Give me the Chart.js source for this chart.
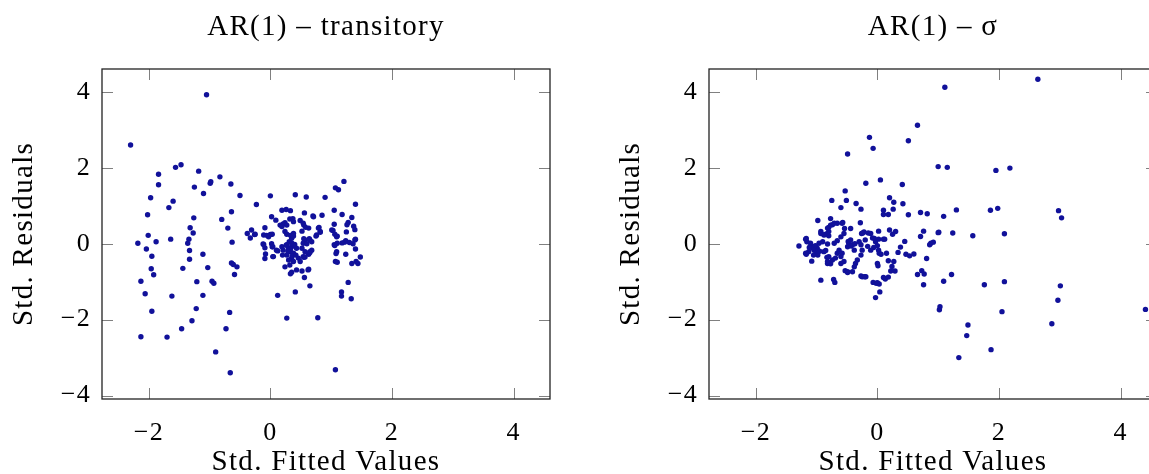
<!DOCTYPE html>
<html>
<head>
<meta charset="utf-8">
<script src="https://cdn.jsdelivr.net/npm/chart.js@4.4.1/dist/chart.umd.min.js"></script>
<style>
  html, body { margin: 0; padding: 0; background: #fff; }
  body { width: 1149px; height: 474px; overflow: hidden; position: relative; }
  .panel { position: absolute; top: 0; width: 600px; height: 474px; }
</style>
</head>
<body>
<div class="panel" style="left:0px"><canvas id="c1" width="600" height="474"></canvas></div>
<div class="panel" style="left:607px"><canvas id="c2" width="600" height="474"></canvas></div>
<script>
// ---- data ----
const panelTitles = ["AR(1) \u2013 transitory", "AR(1) \u2013 \u03c3"];
const xAxisTitle = "Std. Fitted Values";
const yAxisTitle = "Std. Residuals";
const xTickValues = [-2, 0, 2, 4];
const yTickValues = [-4, -2, 0, 2, 4];

// AR(1) – transitory : [std. fitted value, std. residual]
const transitoryPoints = [
[-2.30,2.60],[-1.05,3.92],[-1.56,2.01],[-1.47,2.08],[-1.84,1.83],[-1.84,1.55],[-1.18,1.91],[-1.25,1.49],[-0.99,1.59],[-0.98,1.63],
[-0.83,1.76],[-0.65,1.57],[-1.10,1.32],[-1.97,1.21],[-1.60,1.12],[-1.67,0.95],[-2.02,0.76],[-1.26,0.68],[-1.32,0.42],[-1.27,0.28],
[-2.01,0.22],[-1.88,0.05],[-1.64,0.12],[-1.34,0.12],[-0.80,0.64],[-0.70,0.41],[-0.64,0.84],[-0.50,1.27],[-0.23,1.03],[0.00,1.26],
[0.41,1.29],[0.59,1.23],[0.90,1.22],
[-2.18,0.01],[-2.04,-0.14],[-1.95,-0.33],[-1.96,-0.66],[-1.92,-0.82],[-2.13,-0.99],[-2.06,-1.32],[-1.62,-1.38],[-1.95,-1.78],
[-2.13,-2.45],[-1.70,-2.46],[-1.46,-2.24],[-1.29,-2.03],[-1.22,-1.71],[-1.11,-1.36],[-1.21,-1.00],[-1.44,-0.65],[-1.33,-0.41],
[-1.33,-0.18],[-1.36,0.01],[-1.11,-0.28],[-1.03,-0.63],[-0.96,-0.99],[-0.93,-1.04],[-0.90,-2.85],[-0.73,-2.24],[-0.67,-1.81],
[-0.66,-3.40],[-0.63,0.04],[-0.64,-0.51],[-0.61,-0.55],[-0.55,-0.61],[-0.59,-0.81],
[-0.38,0.27],[-0.33,0.15],[-0.26,0.24],[-0.31,0.36],[-0.25,0.25],[-0.09,0.42],[-0.11,0.23],[-0.03,0.18],[-0.12,-0.01],[-0.11,-0.02],
[-0.09,-0.11],[0.02,0.00],[-0.08,-0.27],[-0.09,-0.39],[0.04,-0.34],[0.03,-0.08],[0.12,-0.19],[0.04,-0.08],[0.10,-0.17],[0.05,-0.34],
[0.19,0.88],[0.26,0.90],[0.33,0.87],[0.02,0.71],[0.09,0.62],[0.56,0.81],[0.70,0.73],[0.85,0.75],[0.37,0.66],[0.49,0.61],
[0.24,0.55],[0.21,0.52],[0.16,0.49],[0.55,0.49],[0.58,0.43],[0.32,0.65],[0.38,0.58],[0.27,0.49],[0.19,0.45],[0.54,0.54],
[0.71,0.71],[0.63,0.41],[0.79,0.41],[0.82,0.32],[0.80,0.43],[0.76,0.23],[0.24,0.32],[0.35,0.14],[0.38,0.27],[0.52,0.33],
[0.57,0.10],[0.65,0.10],[0.27,0.25],[0.33,0.22],[0.38,0.20],[0.00,0.24],[-0.06,0.22],[0.03,0.25],[0.55,0.13],[0.64,0.13],
[0.19,-0.08],[0.27,-0.03],[0.35,-0.08],[0.43,-0.12],[0.21,-0.17],[0.30,-0.12],[0.32,-0.21],[0.38,-0.25],[0.27,-0.30],[0.35,-0.38],
[0.30,-0.43],[0.38,-0.47],[0.32,-0.56],[0.52,-0.12],[0.54,0.01],[0.57,-0.21],[0.65,-0.21],[0.68,-0.17],[0.54,-0.34],[0.46,-0.38],
[0.49,-0.47],[0.24,-0.61],[0.43,-0.69],[0.52,-0.72],[0.63,-0.67],[0.35,-0.75],[0.33,-0.79],[0.56,-0.89],[0.65,-1.11],[0.41,-1.27],
[0.12,-1.36],[0.27,-1.96],[0.78,-1.95],[0.20,-0.30],[0.26,-0.04],[0.35,0.02],[0.40,-0.02],[0.33,-0.15],[0.36,-0.32],[0.29,-0.20],
[0.42,-0.30],[0.31,0.05],
[0.62,-0.69],[0.55,-0.36],[0.63,-0.28],[0.65,-0.23],[0.60,0.00],[0.57,-0.35],[0.68,0.05],[0.75,0.20],[0.82,0.30],
[1.21,1.64],[1.07,1.47],[1.12,1.42],[1.40,1.04],[1.05,0.88],[1.18,0.77],[1.34,0.69],[1.28,0.56],[1.26,0.50],[1.37,0.46],
[1.39,0.37],[1.05,0.51],[1.03,0.35],[1.06,0.25],[1.10,0.20],[1.25,0.31],[1.39,0.10],[1.24,0.08],[1.01,0.36],[1.09,0.18],
[1.05,-0.03],[1.09,-0.21],[1.07,-0.47],
[1.07,-3.32],[1.28,-1.02],[1.17,-1.27],[1.17,-1.38],[1.33,-1.45],[1.48,-0.35],[1.41,-0.47],[1.44,-0.52],[1.34,-0.52],[1.10,-0.49],
[1.08,-0.26],[1.24,-0.28],[1.40,-0.14],[1.36,0.00],[1.30,0.03],[1.22,0.04],[1.18,0.02],[1.10,0.01],[1.06,-0.05],[1.40,0.12]
];

// AR(1) – sigma : [std. fitted value, std. residual]
const sigmaPoints = [
[2.64,4.33],[1.11,4.12],[0.66,3.12],[-0.13,2.80],[-0.07,2.51],[0.51,2.71],[-0.49,2.36],[1.00,2.03],[1.15,2.01],[1.95,1.93],
[2.18,1.99],[-0.19,1.59],[0.05,1.68],[0.41,1.56],[-0.53,1.39],[-0.75,1.14],[-0.51,1.14],[-0.60,0.95],[-0.35,1.06],[-0.27,0.91],
[0.20,1.21],[0.27,1.09],[0.26,0.91],[0.10,0.88],[0.10,0.77],[0.18,0.77],[0.42,1.05],[0.51,0.76],[0.71,0.82],[0.82,0.79],
[1.00,0.29],[0.76,0.33],[0.71,0.19],[-0.77,0.66],[-0.98,0.61],[-0.66,0.54],[-0.74,0.50],[-0.80,0.43],[-0.57,0.56],[-0.28,0.55],
[-0.54,0.40],[-0.44,0.40],[-0.93,0.32],[-0.83,0.26],[-0.86,0.24],[-0.80,0.21],[-1.17,0.14],[-0.22,0.31],[-0.24,0.28],[-0.15,0.28],
[0.02,0.33],[0.20,0.36],[0.30,0.32],[-0.05,0.14],[0.02,0.12],[0.12,0.12],
[1.30,0.89],[1.09,0.72],[1.86,0.88],[1.98,0.93],[2.98,0.87],[3.03,0.68],[1.24,0.28],[1.57,0.21],[2.09,0.26],
[1.22,-0.81],[1.09,-0.99],[1.76,-1.08],[2.09,-1.00],[3.01,-1.11],[2.97,-1.49],[2.05,-1.79],[4.41,-1.73],[1.49,-2.14],[1.47,-2.42],
[2.87,-2.11],[1.87,-2.79],[1.34,-3.00],[1.03,-1.66],[1.02,-1.74],
[-1.29,-0.06],[-1.18,0.12],[-1.16,0.05],[-1.17,-0.28],[-1.08,-0.46],[-0.93,-0.96],[-0.72,-0.94],[-0.70,-1.02],[-0.82,-0.52],[-0.77,-0.53],
[-0.83,-0.36],
[-1.10,0.01],[-1.07,-0.08],[-1.04,-0.17],[-1.13,-0.21],[-1.18,-0.25],[-1.01,-0.25],[-0.99,-0.12],[-0.96,0.01],[-0.90,0.05],[-0.93,0.27],
[-0.88,0.23],[-0.82,0.41],[-0.77,0.49],[-0.71,0.54],[-0.80,0.32],[-0.58,0.54],[-0.55,0.27],[-0.60,0.18],[-0.66,0.08],[-0.71,0.01],
[-0.82,-0.01],[-0.88,-0.21],[-0.85,-0.18],[-0.80,-0.34],[-0.82,-0.47],[-0.74,-0.43],[-0.69,-0.38],[-0.66,-0.25],[-0.63,-0.17],[-0.58,-0.25],
[-0.60,-0.34],[-0.55,-0.47],[-0.60,-0.52],[-0.49,-0.08],[-0.47,0.01],[-0.44,0.10],[-0.41,-0.03],[-0.38,-0.17],[-0.30,0.05],[-0.27,-0.03],
[-0.25,-0.17],[-0.27,-0.30],[-0.33,-0.43],[-0.36,-0.52],[-0.38,-0.61],[-0.49,-0.74],[-0.41,-0.74],[-0.25,-0.87],[-0.19,-0.87],[-0.11,0.27],
[-0.08,0.15],[-0.03,0.05],[0.00,-0.05],[-0.06,-0.10],[0.02,-0.17],[-0.11,-0.17],[-0.26,0.27],[-0.20,0.10],[-0.16,-0.07],[-0.48,0.06],
[-0.43,-0.06],[-0.37,0.00],[-1.06,-0.12],[-1.02,-0.05],[-1.12,-0.10],[-0.98,-0.30],[-1.05,-0.30],[-0.95,-0.20],
[0.03,-0.25],[0.00,-0.52],[0.01,-0.58],[-0.07,-1.02],[-0.02,-1.04],[0.03,-1.06],[0.00,-1.03],[0.04,-1.27],[-0.03,-1.42],[0.06,-0.28],
[0.15,-0.25],[0.10,0.12],[0.25,0.25],
[0.18,-0.45],[0.27,-0.47],[0.22,-0.72],[0.24,-0.60],[0.29,-0.72],[0.10,-0.89],[0.13,-0.93],[0.18,-0.88],
[0.34,-0.23],[0.38,-0.09],[0.45,0.06],[0.47,-0.28],[0.53,-0.32],[0.60,-0.27],[0.86,-0.03],[0.88,0.01],[0.92,0.04],[0.81,-0.39],
[0.66,-0.81],[0.73,-0.71],[0.77,-0.80],[0.76,-1.08],[1.01,0.30],
[-0.53,-0.71],[-0.49,-0.76],[-0.27,-0.85],[-0.21,-0.87]
];

const xRange = [-2.77, 4.6];
const yRange = [-4.09, 4.6];

// ---- styling ----
const FONT = "'Liberation Serif', 'DejaVu Serif', serif";
const MARK = '#11119a';
Chart.defaults.font.family = FONT;
Chart.defaults.color = '#000';

function fmt(v) { return v < 0 ? '\u2212' + Math.abs(v) : String(v); }

const spacingPlugin = {
  id: 'spacing',
  beforeDraw(chart) { if ('letterSpacing' in chart.ctx) chart.ctx.letterSpacing = '1.3px'; }
};

const framePlugin = {
  id: 'frame',
  afterDraw(chart) {
    const {ctx, chartArea: a, scales} = chart;
    const L = 11;
    ctx.save();
    ctx.strokeStyle = '#808080';
    ctx.lineWidth = 1;
    xTickValues.forEach(v => {
      const p = Math.round(scales.x.getPixelForValue(v)) + 0.5;
      ctx.beginPath();
      ctx.moveTo(p, a.bottom); ctx.lineTo(p, a.bottom - L);
      ctx.moveTo(p, a.top); ctx.lineTo(p, a.top + L);
      ctx.stroke();
    });
    yTickValues.forEach(v => {
      const p = Math.round(scales.y.getPixelForValue(v)) + 0.5;
      ctx.beginPath();
      ctx.moveTo(a.left, p); ctx.lineTo(a.left + L, p);
      ctx.moveTo(a.right, p); ctx.lineTo(a.right - L, p);
      ctx.stroke();
    });
    ctx.strokeStyle = '#222';
    ctx.lineWidth = 1.3;
    ctx.strokeRect(a.left, a.top, a.right - a.left, a.bottom - a.top);
    ctx.restore();
  }
};

function makeChart(id, title, points) {
  new Chart(document.getElementById(id), {
    type: 'scatter',
    data: {
      datasets: [{
        data: points.map(p => ({x: p[0], y: p[1]})),
        backgroundColor: MARK,
        borderColor: MARK,
        borderWidth: 0,
        pointRadius: 2.7,
        pointHoverRadius: 2.7
      }]
    },
    options: {
      responsive: false,
      animation: false,
      devicePixelRatio: 1,
      layout: { padding: { left: 0, right: 50, top: 0, bottom: 0 } },
      plugins: {
        legend: { display: false },
        tooltip: { enabled: false },
        title: {
          display: true,
          fullSize: false,
          text: title,
          color: '#000',
          font: { family: FONT, size: 29, weight: 'normal', lineHeight: 1 },
          padding: { top: 13, bottom: 27 }
        }
      },
      scales: {
        x: {
          type: 'linear',
          position: 'bottom',
          min: xRange[0], max: xRange[1],
          afterFit(s) { s.height = 75; },
          afterBuildTicks(s) { s.ticks = xTickValues.map(v => ({value: v})); },
          grid: { display: false, drawTicks: false },
          border: { display: false },
          ticks: {
            callback: v => fmt(v),
            padding: 21,
            maxRotation: 0,
            font: { family: FONT, size: 26, lineHeight: 1 },
            color: '#000'
          },
          title: {
            display: true,
            text: xAxisTitle,
            color: '#000',
            font: { family: FONT, size: 29, lineHeight: 1 },
            padding: { top: 0, bottom: -3 }
          }
        },
        y: {
          type: 'linear',
          position: 'left',
          min: yRange[0], max: yRange[1],
          afterFit(s) { s.width = 102; },
          afterBuildTicks(s) { s.ticks = yTickValues.map(v => ({value: v})); },
          grid: { display: false, drawTicks: false },
          border: { display: false },
          ticks: {
            callback: v => fmt(v),
            padding: 11,
            font: { family: FONT, size: 26, lineHeight: 1 },
            color: '#000'
          },
          title: {
            display: true,
            text: yAxisTitle,
            color: '#000',
            font: { family: FONT, size: 29, lineHeight: 1 },
            padding: { top: 10, bottom: 0 }
          }
        }
      }
    },
    plugins: [spacingPlugin, framePlugin]
  });
}

makeChart('c1', panelTitles[0], transitoryPoints);
makeChart('c2', panelTitles[1], sigmaPoints);
</script>
</body>
</html>
